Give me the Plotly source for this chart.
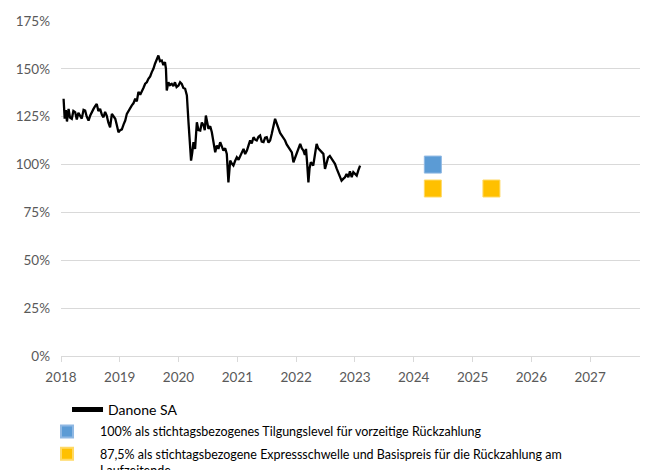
import plotly.graph_objects as go

# Danone SA price history (in % of reference level)
dates = [
    "2018-01-17", "2018-01-24", "2018-01-31", "2018-02-07", "2018-02-17", "2018-02-26",
    "2018-03-09", "2018-03-19", "2018-03-30", "2018-04-09", "2018-04-19", "2018-04-29",
    "2018-05-10", "2018-05-21", "2018-05-31", "2018-06-10", "2018-06-21", "2018-07-01",
    "2018-07-11", "2018-07-22", "2018-08-01", "2018-08-11", "2018-08-21", "2018-09-01",
    "2018-09-12", "2018-09-22", "2018-10-02", "2018-10-12", "2018-10-22", "2018-11-02",
    "2018-11-13", "2018-11-23", "2018-12-04", "2018-12-14", "2018-12-24", "2019-01-04",
    "2019-01-14", "2019-01-25", "2019-02-04", "2019-02-14", "2019-02-24", "2019-03-07",
    "2019-03-17", "2019-03-27", "2019-04-07", "2019-04-17", "2019-04-27", "2019-05-08",
    "2019-05-18", "2019-05-28", "2019-06-08", "2019-06-18", "2019-06-28", "2019-07-09",
    "2019-07-19", "2019-07-29", "2019-08-08", "2019-08-18", "2019-08-29", "2019-09-08",
    "2019-09-19", "2019-09-29", "2019-10-09", "2019-10-15", "2019-10-20", "2019-10-30",
    "2019-11-09", "2019-11-20", "2019-11-30", "2019-12-10", "2019-12-20", "2020-01-01",
    "2020-01-11", "2020-01-21", "2020-01-31", "2020-02-11", "2020-02-22", "2020-03-03",
    "2020-03-13", "2020-03-19", "2020-03-26", "2020-04-03", "2020-04-13", "2020-04-24",
    "2020-05-04", "2020-05-15", "2020-05-25", "2020-06-05", "2020-06-12", "2020-06-19",
    "2020-07-05", "2020-07-16", "2020-07-26", "2020-08-06", "2020-08-16", "2020-08-26",
    "2020-09-05", "2020-09-16", "2020-09-26", "2020-10-06", "2020-10-17", "2020-10-27",
    "2020-11-06", "2020-11-12", "2020-11-17", "2020-11-27", "2020-12-07", "2020-12-18",
    "2020-12-28", "2021-01-08", "2021-01-18", "2021-01-28", "2021-02-08", "2021-02-18",
    "2021-03-01", "2021-03-11", "2021-03-21", "2021-03-31", "2021-04-11", "2021-04-21",
    "2021-05-01", "2021-05-12", "2021-05-22", "2021-06-01", "2021-06-12", "2021-06-22",
    "2021-07-02", "2021-07-13", "2021-07-23", "2021-08-02", "2021-08-13", "2021-08-23",
    "2021-09-02", "2021-09-13", "2021-09-23", "2021-10-03", "2021-10-14", "2021-10-24",
    "2021-11-03", "2021-11-14", "2021-11-24", "2021-12-05", "2021-12-15", "2021-12-25",
    "2022-01-05", "2022-01-15", "2022-01-26", "2022-02-05", "2022-02-15", "2022-02-24",
    "2022-03-03", "2022-03-10", "2022-03-18", "2022-03-25", "2022-04-02", "2022-04-17",
    "2022-04-27", "2022-05-08", "2022-05-18", "2022-05-29", "2022-06-08", "2022-06-19",
    "2022-06-29", "2022-07-09", "2022-07-19", "2022-07-29", "2022-08-09", "2022-08-19",
    "2022-08-30", "2022-09-09", "2022-09-19", "2022-09-30", "2022-10-10", "2022-10-20",
    "2022-10-31", "2022-11-10", "2022-11-21", "2022-12-01", "2022-12-12", "2022-12-22",
    "2023-01-02", "2023-01-12", "2023-01-22", "2023-02-02",
]
danone = [
    134.4, 124.0, 128.5, 122.5, 129.1, 124.5,
    123.9, 128.0, 127.4, 123.5, 127.0, 125.6,
    124.0, 128.6, 128.2, 125.0, 123.0, 125.5,
    127.5, 129.1, 130.5, 131.7, 128.0, 129.1,
    126.0, 124.7, 127.5, 125.6, 122.0, 119.5,
    126.5, 125.0, 123.9, 120.5, 116.9, 118.0,
    118.4, 121.0, 123.0, 126.5, 128.2, 130.0,
    130.9, 132.0, 134.4, 133.0, 138.0, 136.5,
    138.7, 140.0, 142.2, 143.0, 144.8, 146.0,
    148.3, 150.0, 152.7, 155.0, 157.0, 154.0,
    154.4, 152.0, 153.5, 150.0, 138.7, 143.0,
    141.5, 142.2, 141.0, 143.0, 140.5, 141.3,
    143.0, 142.2, 140.0, 139.6, 136.1, 122.1,
    109.9, 102.1, 106.0, 111.7, 108.2, 122.1,
    118.0, 117.8, 122.0, 120.4, 118.0, 125.6,
    118.7, 120.0, 116.9, 112.0, 106.4, 110.0,
    108.2, 111.7, 109.0, 107.3, 108.5, 105.6,
    90.7, 97.0, 102.1, 100.5, 99.5, 102.0,
    103.8, 102.5, 104.6, 106.5, 108.2, 105.5,
    107.3, 110.0, 112.6, 111.0, 114.3, 113.0,
    112.6, 114.5, 115.2, 112.0, 111.7, 114.0,
    114.3, 111.5, 112.6, 116.0, 121.0, 123.9,
    121.5, 118.7, 116.5, 115.2, 114.0, 112.6,
    110.5, 109.0, 108.0, 106.4, 101.2, 103.5,
    105.6, 108.0, 110.8, 108.5, 107.3, 105.0,
    108.2, 101.0, 90.7, 98.0, 101.2, 99.5,
    104.0, 110.8, 108.5, 107.3, 106.5, 105.6,
    97.7, 101.0, 103.8, 104.5, 103.0, 102.0,
    100.4, 98.0, 96.0, 93.0, 91.6, 92.5,
    93.4, 95.0, 93.4, 96.5, 93.4, 96.0,
    95.0, 94.2, 97.0, 99.5,
]

# Observation dates and levels
call_dates = ["2024-04-29"]
call_levels = [100.0]
barrier_dates = ["2024-04-29", "2025-04-28"]
barrier_levels = [87.5, 87.5]

y_ticks = [0, 25, 50, 75, 100, 125, 150, 175]
y_tick_labels = ["0%", "25%", "50%", "75%", "100%", "125%", "150%", "175%"]

name_line = "Danone SA"
name_call = "100% als stichtagsbezogenes Tilgungslevel für vorzeitige Rückzahlung"
name_barrier = ("87,5% als stichtagsbezogene Expressschwelle und Basispreis für die Rückzahlung am"
                "<br>Laufzeitende")

FONT = "Lato, 'Open Sans', sans-serif"
TXT = "#595959"

fig = go.Figure()
fig.add_trace(go.Scatter(
    x=dates, y=danone, mode="lines", name=name_line,
    line=dict(color="#000000", width=2.3), legend="legend",
))
fig.add_trace(go.Scatter(
    x=call_dates, y=call_levels, mode="markers", name=name_call,
    marker=dict(symbol="square", size=17, color="#5B9BD5",
                line=dict(color="#8FB8E3", width=1)),
    legend="legend2", legendgroup="call",
))
fig.add_trace(go.Scatter(
    x=barrier_dates, y=barrier_levels, mode="markers", name=name_barrier,
    marker=dict(symbol="square", size=17, color="#FFC000",
                line=dict(color="#FFD966", width=1)),
    legend="legend2", legendgroup="barrier",
))

# The page body has an 8px margin, so the figure is sized to fit the window.
fig.update_layout(
    width=640, height=462,
    margin=dict(l=53, r=3, t=13, b=114, autoexpand=False),
    paper_bgcolor="white", plot_bgcolor="white",
    font=dict(family=FONT, size=13, color=TXT),
    showlegend=True,
    legend=dict(
        x=0.0103, y=-0.113, xanchor="left", yanchor="top",
        font=dict(family=FONT, size=14, color="#000000"),
        bgcolor="rgba(0,0,0,0)", itemsizing="constant", itemwidth=31,
    ),
    legend2=dict(
        x=-0.0462, y=-0.182, xanchor="left", yanchor="top",
        font=dict(family=FONT, size=12.5, color="#000000"),
        bgcolor="rgba(0,0,0,0)", itemsizing="constant", valign="top",
        itemwidth=56, tracegroupgap=3,
    ),
    xaxis=dict(
        type="date", automargin=False,
        range=["2018-01-01", "2027-12-08"],
        tick0="2018-01-01", dtick="M12", tickformat="%Y",
        showgrid=False, showline=True, linecolor="#D9D9D9", linewidth=1,
        ticks="outside", ticklen=5, tickcolor="#D9D9D9",
        tickfont=dict(family=FONT, size=13.5, color=TXT),
        ticklabelstandoff=4, zeroline=False,
    ),
    yaxis=dict(
        range=[0, 175], tickvals=y_ticks, ticktext=y_tick_labels,
        automargin=False,
        showgrid=True, gridcolor="#D9D9D9", gridwidth=1,
        showline=False, zeroline=False, ticks="",
        tickfont=dict(family=FONT, size=13.5, color=TXT),
        ticklabelstandoff=10,
    ),
)

fig.write_html("out.html")
